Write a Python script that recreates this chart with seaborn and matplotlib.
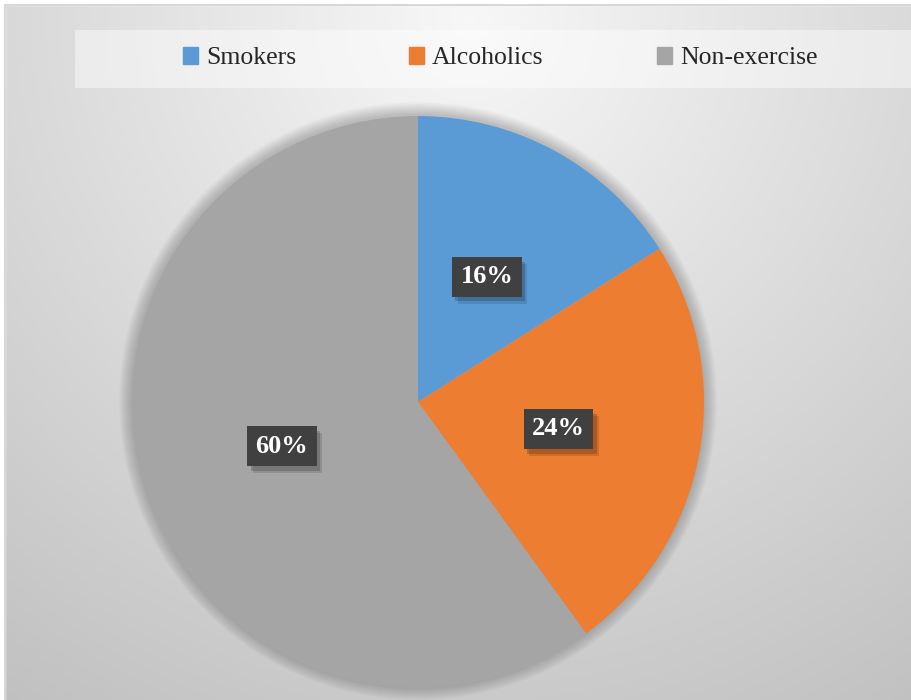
import matplotlib
matplotlib.use("Agg")

import matplotlib.pyplot as plt
import matplotlib.patheffects as pe
from matplotlib.patches import Rectangle, Circle
import numpy as np
import seaborn as sns

categories = ["Smokers", "Alcoholics", "Non-exercise"]
shares = [16, 24, 60]
colors = ["#5b9bd5", "#ed7d31", "#a5a5a5"]

sns.set_theme(style="white")
plt.rcParams["font.family"] = ["Liberation Serif", "DejaVu Serif"]

W, H = 911, 700
fig = plt.figure(figsize=(W / 100, H / 100), dpi=100)
fig.patch.set_facecolor("white")

# ---------------------------------------------------------------------------
# Background: radial grey gradient, lighter at the top centre
# ---------------------------------------------------------------------------
bg = fig.add_axes([0, 0, 1, 1], zorder=0)
yy, xx = np.mgrid[0:H, 0:W]
d = np.hypot(xx - 470, (yy - 20) * 1.0) / 840
shade = np.clip(0.97 - 0.22 * d, 0, 1)
bg.imshow(np.dstack([shade] * 3), extent=[0, W, H, 0], aspect="auto")
bg.set_xlim(0, W)
bg.set_ylim(H, 0)
bg.axis("off")
# white margin + thin border
bg.add_patch(Rectangle((0, 0), W, 5, color="white", zorder=2))
bg.add_patch(Rectangle((0, 0), 5, H, color="white", zorder=2))
bg.plot([5, 5, W], [H, 5, 5], color="#d0d0d0", lw=1.2, zorder=3)
# legend band
bg.add_patch(Rectangle((75, 30), W - 75, 58, color="white", alpha=0.45, lw=0, zorder=1))

# ---------------------------------------------------------------------------
# Pie
# ---------------------------------------------------------------------------
cx, cy, r = 418, 402, 286
ax = fig.add_axes([(cx - r) / W, (H - cy - r) / H, 2 * r / W, 2 * r / H], zorder=1)
ax.patch.set_alpha(0)

# soft shadow around the pie
for k in range(1, 14):
    ax.add_patch(Circle((0, 0.004), 1 + 0.0035 * k, color="black", alpha=0.016,
                        lw=0, zorder=0, clip_on=False))

wedges, texts, autotexts = ax.pie(
    shares, colors=colors, startangle=90, counterclock=False,
    autopct="%d%%", pctdistance=0.5, radius=1,
    wedgeprops=dict(linewidth=0), frame=False,
)
for t in autotexts:
    t.set_color("white")
    t.set_fontweight("bold")
    t.set_fontsize(19)
    t.set_bbox(dict(boxstyle="square,pad=0.32", facecolor="#404040", edgecolor="none"))
    t.get_bbox_patch().set_path_effects([
        pe.SimplePatchShadow(offset=(4, -5), shadow_rgbFace="black", alpha=0.12),
        pe.SimplePatchShadow(offset=(2.5, -3.5), shadow_rgbFace="black", alpha=0.18),
        pe.Normal(),
    ])
ax.set_xlim(-1, 1)
ax.set_ylim(-1, 1)
ax.set_aspect("equal")
ax.axis("off")

# ---------------------------------------------------------------------------
# Legend
# ---------------------------------------------------------------------------
handles = [Rectangle((0, 0), 1, 1, color=c) for c in colors]
fig.legend(handles, categories, loc="center", bbox_to_anchor=(500 / W, 1 - 58 / H),
           ncol=3, frameon=False, fontsize=18.5, handlelength=0.6, handleheight=0.7,
           handletextpad=0.3, columnspacing=4.4)

fig.savefig("out.png", dpi=100)
